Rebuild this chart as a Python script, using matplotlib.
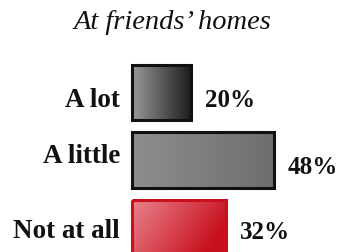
import numpy as np
import matplotlib.pyplot as plt
from matplotlib.colors import LinearSegmentedColormap, to_rgb
from matplotlib.patches import Rectangle

# ── data ──────────────────────────────────────────────────────────────
title = "At friends\u2019 homes"
categories = ["A lot", "A little", "Not at all"]
values = [20, 48, 32]

# ── styling (gradient start / end per bar, edge colour) ──────────────
grad_left = ["#9a9a9a", "#8e8e8e", "#e9848e"]
grad_right = ["#1c1c1c", "#6e6e6e", "#c8101e"]
edge_cols = ["#111111", "#111111", "#c8101e"]
label_dy = [0.215, 0.045, 0.16]   # baseline offsets of the category labels
value_dy = [0.215, 0.21, 0.17]    # baseline offsets of the percentage labels

plt.rcParams['font.family'] = ['Liberation Serif', 'DejaVu Serif']

fig = plt.figure(figsize=(3.44, 2.52), dpi=100)
ax = fig.add_axes([0, 0, 1, 1])
px = 2.95  # pixels per percent
ax.set_xlim(-132 / px, (344 - 132) / px)
ax.set_ylim((252 - 92.5) / 67.5, -92.5 / 67.5)
ax.axis('off')

bar_h = 0.815
ypos = np.arange(len(categories))
bars = ax.barh(ypos, values, height=bar_h, color='none',
               edgecolor=edge_cols, linewidth=2.2, zorder=3)

# fill each bar with a left→right gradient, clipped to the bar
ramp = np.linspace(0, 1, 256)
for i, b in enumerate(bars):
    cmap = LinearSegmentedColormap.from_list(
        f"g{i}", [to_rgb(grad_left[i]), to_rgb(grad_right[i])])
    x0, y0 = b.get_x(), b.get_y()
    w, h = b.get_width(), b.get_height()
    if i == 2:
        # red bar is lighter toward the upper-left corner
        yy, xx = np.mgrid[0:1:64j, 0:1:256j]
        img = np.clip(0.85 * xx + 0.35 * yy, 0, 1)
    else:
        img = np.tile(ramp, (8, 1))
    im = ax.imshow(img, cmap=cmap, extent=[x0, x0 + w, y0 + h, y0],
                   aspect='auto', zorder=2, interpolation='bilinear')
    clip = Rectangle((x0, y0), w, h, transform=ax.transData)
    im.set_clip_path(clip)

for i, (cat, v) in enumerate(zip(categories, values)):
    ax.text(-12 / px, ypos[i] + label_dy[i], cat, ha='right', va='baseline',
            fontsize=19.5, fontweight='bold', color='#111111')
    ax.text(v + 14 / px, ypos[i] + value_dy[i], f"{v}%", ha='left',
            va='baseline', fontsize=18, fontweight='bold', color='#111111')

fig.text(172 / 344, 1 - 29 / 252, title, ha='center', va='baseline',
         fontsize=20.5, fontstyle='italic', color='#111111')

fig.savefig('out.png', dpi=100)
